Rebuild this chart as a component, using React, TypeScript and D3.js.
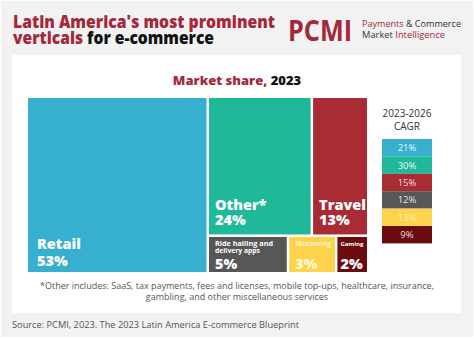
import React from "react";
import * as d3 from "d3";

const categories = ["Retail", "Other*", "Travel", "Ride hailing and delivery apps", "Streaming", "Gaming"];
const shares = [53, 24, 13, 5, 3, 2];
const cagr = ["21%", "30%", "15%", "12%", "13%", "9%"];
const colors = ["#37b0cf", "#1fb899", "#a92b33", "#575757", "#fdd34c", "#6a0b10"];
const cagrText = ["#e8f6fb", "#e6f7f2", "#f6dede", "#e6e6e6", "#fff1b8", "#f3dada"];

const W = 474, H = 339;
const FONT = "'Open Sans', 'DejaVu Sans', sans-serif";

export default function App() {
  type Leaf = { name?: string; value?: number; idx?: number; children?: Leaf[] };
  const data: Leaf = {
    children: [
      { name: categories[0], value: shares[0], idx: 0 },
      {
        children: [
          { children: [1, 2].map((i) => ({ name: categories[i], value: shares[i], idx: i })) },
          { children: [3, 4, 5].map((i) => ({ name: categories[i], value: shares[i], idx: i })) },
        ],
      },
    ],
  };
  const root = d3.hierarchy<Leaf>(data).sum((d) => d.value || 0);
  d3.treemap<Leaf>().tile(d3.treemapSliceDice).size([339, 174]).paddingInner(2.5)(root);
  const leaves = root.leaves() as d3.HierarchyRectangularNode<Leaf>[];
  const ox = 28, oy = 98;

  const rowH = 17.4;
  const cy = d3.scaleBand<number>().domain(d3.range(cagr.length)).range([139, 139 + rowH * cagr.length]).padding(0);

  const smallLen: Record<number, number[]> = { 3: [58, 45], 4: [36], 5: [23] };

  const label = (d: d3.HierarchyRectangularNode<Leaf>) => {
    const i = d.data.idx!;
    const x = ox + d.x0, y1 = oy + d.y1;
    if (i <= 2) {
      const pad = i === 0 ? 9 : 6;
      return (
        <g fill="#fff" fontWeight={800} fontFamily={FONT}>
          <text x={x + pad} y={y1 - (i === 0 ? 23 : 24)} fontSize={14.5}>{d.data.name}</text>
          <text x={x + pad} y={y1 - (i === 0 ? 6 : 9)} fontSize={14.5}>{shares[i]}%</text>
        </g>
      );
    }
    const light = i === 4 ? "#fff6cf" : "#fff";
    const lines = i === 3 ? ["Ride hailing and", "delivery apps"] : [d.data.name!];
    const fs = i === 3 ? 7.4 : i === 4 ? 6.8 : 5.8;
    const tx = x + (i === 5 ? 3 : 6);
    return (
      <g fill={light} fontWeight={700} fontFamily={FONT}>
        {lines.map((l, k) => (
          <text key={k} x={tx} y={oy + d.y0 + 9 + k * 7.5} fontSize={fs} textLength={smallLen[i][k]} lengthAdjust="spacingAndGlyphs">{l}</text>
        ))}
        <text x={tx} y={y1 - 3} fontSize={14.5} fontWeight={800}>{shares[i]}%</text>
      </g>
    );
  };

  return (
    <svg width={W} height={H} style={{ position: "absolute", left: 0, top: 0 }}>
      <rect width={W} height={H} fill="#ffffff" />
      <rect x={1} y={1} width={472} height={336} fill="#f2f2f2" />
      <rect x={12} y={55} width={449} height={258} fill="#ffffff" />
      <g fontFamily={FONT} fontWeight={800} fontSize={17}>
        <text x={13} y={28} fill="#a4283a" textLength={262} lengthAdjust="spacingAndGlyphs">Latin America's most prominent</text>
        <text x={13} y={44} textLength={201} lengthAdjust="spacingAndGlyphs">
          <tspan fill="#a4283a">verticals</tspan>
          <tspan fill="#111"> for e-commerce</tspan>
        </text>
      </g>
      <text x={288} y={41} fontFamily={FONT} fontWeight={700} fontSize={29} fill="#a4283a" textLength={64} lengthAdjust="spacingAndGlyphs">PCMI</text>
      <g fontFamily={FONT} fontSize={9}>
        <text x={362} y={27} textLength={99} lengthAdjust="spacingAndGlyphs">
          <tspan fill="#a4283a">Payments</tspan>
          <tspan fill="#333"> &amp; Commerce</tspan>
        </text>
        <text x={362} y={38} textLength={83} lengthAdjust="spacingAndGlyphs">
          <tspan fill="#333">Market </tspan>
          <tspan fill="#a4283a">Intelligence</tspan>
        </text>
      </g>
      <text x={237} y={85} textAnchor="middle" fontFamily={FONT} fontWeight={800} fontSize={13}>
        <tspan fill="#a4283a">Market share,</tspan>
        <tspan fill="#111"> 2023</tspan>
      </text>
      {leaves.map((d, k) => (
        <rect key={k} x={ox + d.x0} y={oy + d.y0} width={d.x1 - d.x0} height={d.y1 - d.y0} fill={colors[d.data.idx!]} />
      ))}
      {leaves.map((d, k) => <g key={"l" + k}>{label(d)}</g>)}
      <g fontFamily={FONT} fontSize={10} fill="#333" textAnchor="middle">
        <text x={407} y={117}>2023-2026</text>
        <text x={407} y={130}>CAGR</text>
      </g>
      {cagr.map((v, i) => (
        <g key={"c" + i}>
          <rect x={382} y={cy(i)!} width={50} height={cy.bandwidth()} fill={colors[i]} />
          <text x={407} y={cy(i)! + cy.bandwidth() / 2 + 3.5} textAnchor="middle" fontFamily={FONT} fontSize={9.5} fill={cagrText[i]}>{v}</text>
        </g>
      ))}
      <g fontFamily={FONT} fontSize={9} fill="#555" textAnchor="middle">
        <text x={237} y={289} textLength={394} lengthAdjust="spacingAndGlyphs">*Other includes: SaaS, tax payments, fees and licenses, mobile top-ups, healthcare, insurance,</text>
        <text x={237} y={300}>gambling, and other miscellaneous services</text>
      </g>
      <text x={12} y={328} fontFamily={FONT} fontSize={9.2} fill="#555" textLength={287} lengthAdjust="spacingAndGlyphs">Source: PCMI, 2023. The 2023 Latin America E-commerce Blueprint</text>
    </svg>
  );
}
